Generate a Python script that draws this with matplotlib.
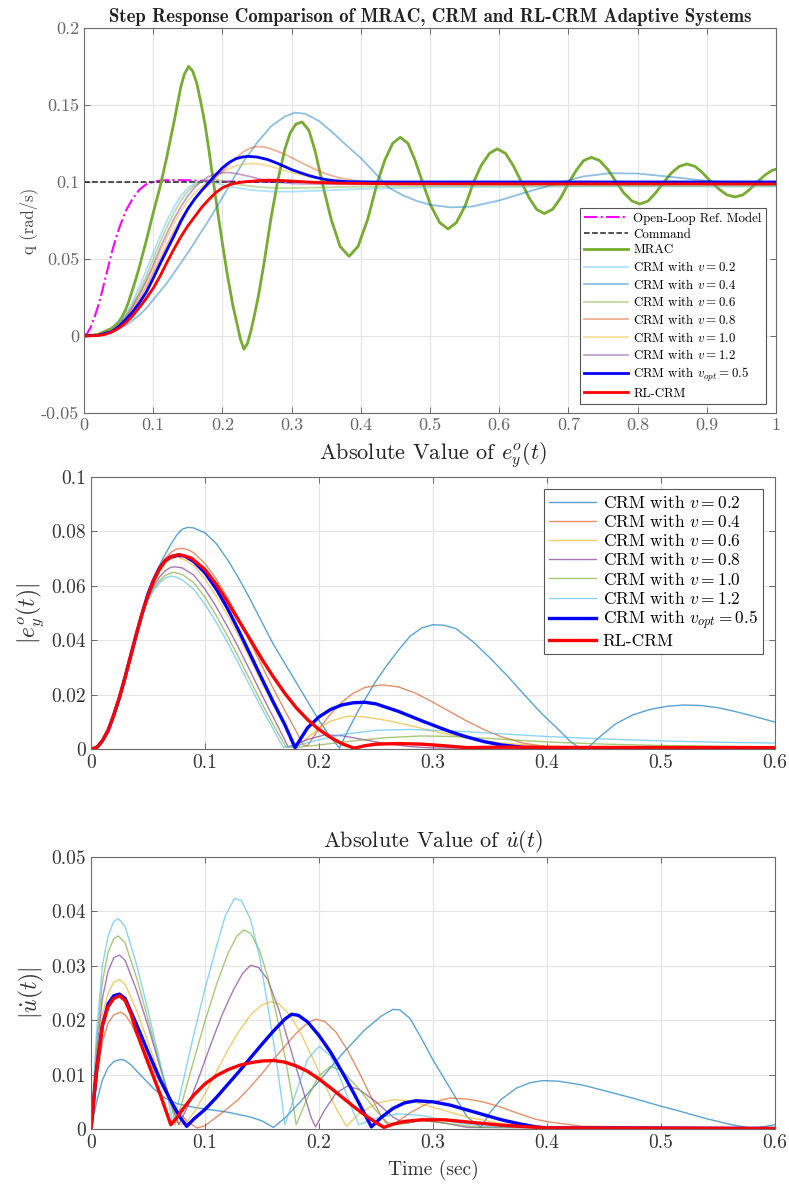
import numpy as np
import matplotlib.pyplot as plt
from matplotlib.ticker import FuncFormatter

plt.rcParams['font.family'] = 'cmr10'
plt.rcParams['mathtext.fontset'] = 'cm'
plt.rcParams['axes.unicode_minus'] = False

# --- MATLAB default colours ---
C_BLUE = (0, 0.447, 0.741)
C_ORANGE = (0.85, 0.325, 0.098)
C_YELLOW = (0.929, 0.694, 0.125)
C_PURPLE = (0.494, 0.184, 0.556)
C_GREEN = (0.466, 0.674, 0.188)
C_CYAN = (0.301, 0.745, 0.933)

# =========================================================================
# Panel 1: step response q (rad/s), (t, q) pairs
# =========================================================================
ref_model = [(0, 0), (0.005, 0.002), (0.01, 0.006), (0.015, 0.012), (0.02, 0.019), (0.025, 0.027),
             (0.03, 0.036), (0.035, 0.045), (0.04, 0.054), (0.045, 0.062), (0.05, 0.069), (0.06, 0.081),
             (0.07, 0.089), (0.08, 0.095), (0.09, 0.0985), (0.1, 0.1), (0.11, 0.1009), (0.125, 0.1013),
             (0.15, 0.1011), (0.2, 0.1003), (0.3, 0.1), (1.0, 0.1)]
command = [(0, 0.1), (1.0, 0.1)]

mrac_t = [0, 0.02, 0.04, 0.05, 0.055, 0.06, 0.065, 0.07, 0.075, 0.08,
          0.09, 0.1, 0.11, 0.12, 0.13, 0.14, 0.145, 0.151, 0.157, 0.163,
          0.17, 0.175, 0.18, 0.187, 0.195, 0.2, 0.207, 0.215, 0.221, 0.226,
          0.231, 0.236, 0.241, 0.246, 0.252, 0.26, 0.27, 0.28, 0.29, 0.298,
          0.306, 0.315, 0.325, 0.334, 0.344, 0.357, 0.37, 0.383, 0.396, 0.41,
          0.424, 0.435, 0.446, 0.457, 0.468, 0.478, 0.489, 0.501, 0.514, 0.526,
          0.538, 0.551, 0.563, 0.574, 0.586, 0.597, 0.609, 0.62, 0.632, 0.643,
          0.654, 0.665, 0.677, 0.689, 0.701, 0.712, 0.722, 0.733, 0.745, 0.757,
          0.769, 0.78, 0.792, 0.803, 0.815, 0.826, 0.838, 0.849, 0.86, 0.871,
          0.883, 0.894, 0.906, 0.918, 0.929, 0.941, 0.952, 0.962, 0.973, 0.984,
          0.994, 1.0]
mrac_q = [0, 0.001, 0.005, 0.009, 0.0125, 0.017, 0.023, 0.03, 0.037, 0.045,
          0.062, 0.08, 0.097, 0.117, 0.139, 0.162, 0.17, 0.175, 0.172, 0.164,
          0.149, 0.137, 0.122, 0.1, 0.075, 0.06, 0.04, 0.02, 0.008, -0.002,
          -0.0086, -0.005, 0.003, 0.013, 0.026, 0.047, 0.076, 0.101, 0.121, 0.132,
          0.1375, 0.139, 0.1335, 0.12, 0.1, 0.0759, 0.0582, 0.0517, 0.0582, 0.0759,
          0.1, 0.1145, 0.1251, 0.129, 0.1251, 0.1145, 0.1, 0.0848, 0.0736, 0.0695,
          0.0736, 0.0848, 0.1, 0.1108, 0.1186, 0.1215, 0.1186, 0.1108, 0.1, 0.0898,
          0.0822, 0.0795, 0.0822, 0.0898, 0.1, 0.108, 0.1139, 0.116, 0.1139, 0.108,
          0.1, 0.0929, 0.0876, 0.0857, 0.0876, 0.0929, 0.1, 0.1059, 0.1101, 0.1117,
          0.1101, 0.1059, 0.1, 0.0952, 0.0916, 0.0903, 0.0916, 0.0952, 0.1, 0.1045,
          0.1075, 0.1083]

q_v02 = [(0, 0), (0.02, 0.0005), (0.04, 0.004), (0.05, 0.008), (0.06, 0.014), (0.07, 0.022),
         (0.08, 0.032), (0.09, 0.043), (0.1, 0.054), (0.11, 0.065), (0.12, 0.075), (0.13, 0.084),
         (0.14, 0.091), (0.15, 0.096), (0.16, 0.099), (0.17, 0.1005), (0.18, 0.1005), (0.19, 0.0995),
         (0.21, 0.097), (0.24, 0.0948), (0.27, 0.0938), (0.3, 0.0937), (0.35, 0.0945), (0.4, 0.0955),
         (0.5, 0.0965), (0.7, 0.097), (1.0, 0.097)]
q_v04 = [(0, 0), (0.02, 0.0003), (0.04, 0.0025), (0.06, 0.0068), (0.08, 0.0135), (0.09, 0.018),
         (0.1, 0.0235), (0.11, 0.029), (0.12, 0.0345), (0.13, 0.041), (0.14, 0.0475), (0.15, 0.054),
         (0.16, 0.061), (0.17, 0.068), (0.18, 0.075), (0.19, 0.0825), (0.2, 0.09), (0.213, 0.1),
         (0.23, 0.113), (0.25, 0.1255), (0.27, 0.136), (0.29, 0.1425), (0.305, 0.145), (0.32, 0.1442),
         (0.34, 0.1395), (0.36, 0.1318), (0.38, 0.1235), (0.4, 0.1155), (0.42, 0.106), (0.44, 0.0965),
         (0.46, 0.0915), (0.48, 0.0878), (0.5, 0.0852), (0.53, 0.0835), (0.56, 0.084), (0.6, 0.088),
         (0.64, 0.0935), (0.68, 0.0985), (0.72, 0.1035), (0.76, 0.1057), (0.8, 0.1055), (0.85, 0.1032),
         (0.9, 0.1007), (0.95, 0.099), (1.0, 0.0983)]
q_v06 = [(0, 0), (0.02, 0.0005), (0.04, 0.0035), (0.05, 0.0075), (0.06, 0.013), (0.07, 0.02),
         (0.08, 0.029), (0.09, 0.039), (0.1, 0.05), (0.11, 0.061), (0.12, 0.071), (0.13, 0.08),
         (0.14, 0.088), (0.15, 0.094), (0.16, 0.098), (0.17, 0.1005), (0.18, 0.1015), (0.19, 0.1015),
         (0.2, 0.1008), (0.22, 0.0985), (0.25, 0.0968), (0.28, 0.096), (0.32, 0.0962), (0.4, 0.097),
         (0.6, 0.0975), (1.0, 0.0975)]
q_v08 = [(0, 0), (0.02, 0.0005), (0.04, 0.003), (0.05, 0.006), (0.06, 0.0105), (0.07, 0.017),
         (0.08, 0.024), (0.09, 0.032), (0.1, 0.041), (0.11, 0.05), (0.12, 0.059), (0.13, 0.068),
         (0.14, 0.076), (0.15, 0.083), (0.16, 0.089), (0.17, 0.094), (0.18, 0.098), (0.19, 0.1025),
         (0.2, 0.107), (0.21, 0.1115), (0.22, 0.1155), (0.23, 0.1195), (0.24, 0.122), (0.25, 0.123),
         (0.26, 0.1228), (0.27, 0.1215), (0.29, 0.118), (0.31, 0.1135), (0.33, 0.109), (0.35, 0.1052),
         (0.37, 0.1025), (0.4, 0.1003), (0.45, 0.0995), (1.0, 0.0993)]
q_v10 = [(0, 0), (0.02, 0.0005), (0.04, 0.0032), (0.05, 0.0065), (0.06, 0.011), (0.07, 0.018),
         (0.08, 0.026), (0.09, 0.035), (0.1, 0.044), (0.11, 0.054), (0.12, 0.064), (0.13, 0.073),
         (0.14, 0.081), (0.15, 0.0875), (0.16, 0.093), (0.17, 0.097), (0.18, 0.1005), (0.19, 0.1038),
         (0.2, 0.1065), (0.21, 0.1088), (0.22, 0.1105), (0.23, 0.1115), (0.242, 0.112), (0.255, 0.1115),
         (0.27, 0.11), (0.29, 0.1075), (0.31, 0.105), (0.33, 0.103), (0.36, 0.1008), (0.4, 0.0995),
         (0.5, 0.099), (1.0, 0.099)]
q_v12 = [(0, 0), (0.02, 0.0005), (0.04, 0.0033), (0.05, 0.007), (0.06, 0.012), (0.07, 0.019),
         (0.08, 0.027), (0.09, 0.036), (0.1, 0.046), (0.11, 0.057), (0.12, 0.067), (0.13, 0.076),
         (0.14, 0.084), (0.15, 0.091), (0.16, 0.0965), (0.17, 0.1005), (0.18, 0.1035), (0.19, 0.1052),
         (0.2, 0.106), (0.21, 0.1061), (0.22, 0.1055), (0.24, 0.1035), (0.26, 0.1013), (0.28, 0.0998),
         (0.3, 0.099), (0.35, 0.0985), (1.0, 0.0985)]
q_opt = [(0, 0), (0.02, 0.0004), (0.04, 0.0028), (0.05, 0.006), (0.06, 0.0105), (0.07, 0.0155),
         (0.08, 0.0215), (0.09, 0.0285), (0.1, 0.0375), (0.11, 0.047), (0.12, 0.056), (0.13, 0.065),
         (0.14, 0.0745), (0.15, 0.0825), (0.16, 0.089), (0.17, 0.0945), (0.181, 0.1), (0.19, 0.1045),
         (0.2, 0.1092), (0.21, 0.1128), (0.22, 0.1152), (0.23, 0.1163), (0.237, 0.1166), (0.25, 0.1162),
         (0.266, 0.1145), (0.28, 0.112), (0.29, 0.11), (0.3, 0.108), (0.314, 0.1058), (0.326, 0.104),
         (0.338, 0.1026), (0.35, 0.1015), (0.362, 0.1008), (0.38, 0.1002), (0.42, 0.1), (1.0, 0.1)]
q_rl = [(0, 0), (0.02, 0.0003), (0.03, 0.001), (0.04, 0.0025), (0.05, 0.005), (0.06, 0.0085),
        (0.07, 0.013), (0.08, 0.0185), (0.09, 0.0245), (0.1, 0.031), (0.11, 0.039), (0.12, 0.048),
        (0.13, 0.0565), (0.14, 0.0645), (0.15, 0.0715), (0.16, 0.0775), (0.17, 0.0835), (0.18, 0.0885),
        (0.19, 0.093), (0.2, 0.0962), (0.21, 0.0982), (0.22, 0.0993), (0.23, 0.1), (0.242, 0.1005),
        (0.255, 0.101), (0.266, 0.1012), (0.28, 0.1011), (0.3, 0.1006), (0.33, 0.0998), (0.37, 0.0992),
        (0.45, 0.0988), (1.0, 0.0987)]

# =========================================================================
# Panel 2: |e_y^o(t)|
# =========================================================================
ey_rise = [(0, 0), (0.005, 0.0005), (0.01, 0.003), (0.015, 0.0068), (0.02, 0.0125), (0.025, 0.019),
           (0.03, 0.0265), (0.035, 0.0345), (0.04, 0.0425), (0.045, 0.05)]
ey_v02 = [(0.05, 0.057), (0.055, 0.063), (0.06, 0.0675), (0.065, 0.0715), (0.07, 0.0752), (0.075, 0.0785),
          (0.08, 0.0808), (0.085, 0.0815), (0.09, 0.0813), (0.1, 0.0795), (0.11, 0.0755), (0.12, 0.0695),
          (0.13, 0.0625), (0.14, 0.0548), (0.15, 0.0466), (0.16, 0.0385), (0.17, 0.0315), (0.18, 0.0245),
          (0.19, 0.0175), (0.2, 0.0105), (0.21, 0.0045), (0.218, 0.0003), (0.225, 0.0065), (0.235, 0.0145),
          (0.25, 0.025), (0.26, 0.031), (0.27, 0.0365), (0.28, 0.0415), (0.29, 0.0445), (0.3, 0.0457),
          (0.31, 0.0455), (0.32, 0.0443), (0.335, 0.0395), (0.35, 0.0335), (0.365, 0.027), (0.38, 0.02),
          (0.395, 0.0132), (0.41, 0.0072), (0.42, 0.003), (0.428, 0.0005), (0.436, 0.0005), (0.445, 0.004),
          (0.46, 0.0092), (0.475, 0.0125), (0.49, 0.0145), (0.505, 0.0157), (0.52, 0.0162), (0.535, 0.016),
          (0.55, 0.0152), (0.565, 0.0138), (0.58, 0.0122), (0.6, 0.0099)]
ey_v04 = [(0.05, 0.0565), (0.055, 0.062), (0.06, 0.0665), (0.065, 0.07), (0.07, 0.0723), (0.075, 0.0735),
          (0.08, 0.0738), (0.085, 0.0733), (0.09, 0.0722), (0.1, 0.0682), (0.11, 0.0625), (0.12, 0.0555),
          (0.13, 0.0475), (0.14, 0.039), (0.15, 0.0305), (0.16, 0.0222), (0.17, 0.0142), (0.18, 0.0065),
          (0.186, 0.0015), (0.19, 0.0012), (0.2, 0.0075), (0.21, 0.0128), (0.22, 0.0172), (0.23, 0.0205),
          (0.24, 0.0226), (0.255, 0.0236), (0.27, 0.0228), (0.285, 0.0205), (0.3, 0.0172), (0.315, 0.0137),
          (0.33, 0.0102), (0.345, 0.0071), (0.36, 0.0045), (0.38, 0.0021), (0.4, 0.0009), (0.45, 0.0004),
          (0.6, 0.0003)]
ey_v06 = [(0.05, 0.056), (0.055, 0.061), (0.06, 0.065), (0.065, 0.068), (0.07, 0.0698), (0.076, 0.0705),
          (0.085, 0.069), (0.09, 0.0675), (0.1, 0.0625), (0.11, 0.0562), (0.12, 0.049), (0.13, 0.0412),
          (0.14, 0.0328), (0.15, 0.0243), (0.16, 0.016), (0.17, 0.0082), (0.177, 0.0025), (0.181, 0.0005),
          (0.19, 0.0042), (0.2, 0.0076), (0.21, 0.0102), (0.225, 0.0121), (0.24, 0.0118), (0.26, 0.0105),
          (0.28, 0.0086), (0.3, 0.0066), (0.33, 0.004), (0.36, 0.0022), (0.4, 0.001), (0.5, 0.0004),
          (0.6, 0.0003)]
ey_v08 = [(0.05, 0.0555), (0.055, 0.0598), (0.06, 0.0632), (0.065, 0.0655), (0.07, 0.0668), (0.074, 0.067),
          (0.08, 0.0666), (0.09, 0.064), (0.1, 0.0588), (0.11, 0.0522), (0.12, 0.0448), (0.13, 0.0368),
          (0.14, 0.0284), (0.15, 0.0198), (0.16, 0.0116), (0.167, 0.0058), (0.173, 0.0008), (0.18, 0.0018),
          (0.19, 0.0035), (0.205, 0.0052), (0.22, 0.0049), (0.24, 0.0034), (0.26, 0.0019), (0.28, 0.0009),
          (0.3, 0.0004), (0.6, 0.0002)]
ey_v10 = [(0.05, 0.055), (0.055, 0.059), (0.06, 0.0618), (0.065, 0.0638), (0.072, 0.065), (0.08, 0.0642),
          (0.09, 0.0612), (0.1, 0.0558), (0.11, 0.049), (0.12, 0.0414), (0.13, 0.0333), (0.14, 0.025),
          (0.15, 0.0167), (0.16, 0.0089), (0.167, 0.0037), (0.171, 0.0008), (0.18, 0.0006), (0.2, 0.0015),
          (0.23, 0.003), (0.26, 0.0042), (0.29, 0.0048), (0.32, 0.0046), (0.36, 0.0036), (0.4, 0.0026),
          (0.45, 0.0018), (0.5, 0.0013), (0.6, 0.0008)]
ey_v12 = [(0.05, 0.0545), (0.055, 0.0583), (0.06, 0.061), (0.065, 0.0628), (0.07, 0.0636), (0.075, 0.0632),
          (0.08, 0.0622), (0.09, 0.0588), (0.1, 0.0532), (0.11, 0.0465), (0.12, 0.039), (0.13, 0.031),
          (0.14, 0.0228), (0.15, 0.0147), (0.16, 0.0072), (0.166, 0.0025), (0.169, 0.0006), (0.18, 0.0012),
          (0.2, 0.0034), (0.22, 0.0053), (0.25, 0.0069), (0.28, 0.0072), (0.32, 0.0066), (0.36, 0.0056),
          (0.4, 0.0046), (0.45, 0.0037), (0.5, 0.003), (0.55, 0.0025), (0.6, 0.0022)]
ey_opt = [(0.05, 0.057), (0.055, 0.0622), (0.06, 0.0664), (0.065, 0.0692), (0.07, 0.0706), (0.076, 0.0712),
          (0.082, 0.071), (0.09, 0.069), (0.1, 0.0648), (0.11, 0.0588), (0.12, 0.0515), (0.13, 0.0432),
          (0.14, 0.0345), (0.15, 0.0258), (0.16, 0.0172), (0.17, 0.009), (0.179, 0.0005), (0.185, 0.0045),
          (0.19, 0.0078), (0.2, 0.0118), (0.21, 0.0145), (0.22, 0.0162), (0.23, 0.017), (0.24, 0.0172),
          (0.25, 0.0166), (0.26, 0.0152), (0.27, 0.0138), (0.28, 0.0121), (0.29, 0.0104), (0.3, 0.0088),
          (0.315, 0.0064), (0.33, 0.0044), (0.345, 0.0027), (0.36, 0.0015), (0.38, 0.0006), (0.45, 0.0002),
          (0.6, 0.0002)]
ey_rl = [(0.05, 0.0565), (0.055, 0.062), (0.06, 0.0662), (0.065, 0.0692), (0.07, 0.0708), (0.0775, 0.0715),
         (0.088, 0.0702), (0.1, 0.066), (0.11, 0.0605), (0.12, 0.054), (0.13, 0.047), (0.14, 0.04),
         (0.15, 0.033), (0.16, 0.0265), (0.17, 0.0205), (0.18, 0.0152), (0.19, 0.0108), (0.2, 0.0072),
         (0.21, 0.0043), (0.22, 0.002), (0.231, 0.0003), (0.24, 0.0012), (0.25, 0.0018), (0.27, 0.002),
         (0.29, 0.0018), (0.31, 0.0012), (0.33, 0.0005), (0.36, 0.0007), (0.4, 0.0006), (0.6, 0.0005)]

# =========================================================================
# Panel 3: |u_dot(t)|
# =========================================================================
ud_v02 = [(0, 0), (0.005, 0.005), (0.01, 0.009), (0.015, 0.0113), (0.02, 0.0124), (0.026, 0.0128),
          (0.03, 0.0126), (0.035, 0.0118), (0.045, 0.0096), (0.055, 0.0074), (0.065, 0.0057), (0.075, 0.0047),
          (0.09, 0.004), (0.1, 0.0037), (0.12, 0.0031), (0.14, 0.0022), (0.15, 0.0015), (0.16, 0.0003),
          (0.17, 0.002), (0.18, 0.0042), (0.2, 0.0088), (0.22, 0.0137), (0.24, 0.0182), (0.255, 0.0208),
          (0.265, 0.022), (0.271, 0.0219), (0.28, 0.0203), (0.289, 0.017), (0.3, 0.0127), (0.315, 0.0075),
          (0.33, 0.0022), (0.342, 0.0003), (0.35, 0.003), (0.359, 0.0053), (0.373, 0.0075), (0.385, 0.0085),
          (0.396, 0.0089), (0.41, 0.0088), (0.431, 0.0081), (0.455, 0.0068), (0.475, 0.0057), (0.5, 0.0042),
          (0.518, 0.0032), (0.54, 0.0019), (0.562, 0.0008), (0.578, 0.0002), (0.59, 0.0004), (0.6, 0.0008)]
ud_v04 = [(0, 0), (0.005, 0.009), (0.01, 0.016), (0.015, 0.0195), (0.02, 0.021), (0.026, 0.0215),
          (0.03, 0.021), (0.035, 0.0195), (0.045, 0.0152), (0.055, 0.0108), (0.065, 0.0068), (0.075, 0.0036),
          (0.085, 0.0013), (0.093, 0.0002), (0.1, 0.0006), (0.11, 0.0022), (0.12, 0.0038), (0.13, 0.0056),
          (0.14, 0.0078), (0.15, 0.0102), (0.16, 0.0128), (0.17, 0.0152), (0.18, 0.0176), (0.19, 0.0195),
          (0.197, 0.0202), (0.205, 0.0198), (0.215, 0.0178), (0.225, 0.0145), (0.235, 0.0105), (0.245, 0.0062),
          (0.255, 0.0022), (0.262, 0.0004), (0.27, 0.0015), (0.28, 0.003), (0.295, 0.0047), (0.315, 0.0057),
          (0.33, 0.0055), (0.344, 0.005), (0.36, 0.004), (0.373, 0.003), (0.39, 0.0018), (0.402, 0.0013),
          (0.431, 0.0005), (0.6, 0.0002)]
ud_v06 = [(0, 0), (0.005, 0.012), (0.01, 0.021), (0.015, 0.025), (0.02, 0.027), (0.025, 0.0275),
          (0.03, 0.0266), (0.04, 0.0218), (0.05, 0.016), (0.06, 0.01), (0.07, 0.0045), (0.077, 0.001),
          (0.082, 0.0008), (0.09, 0.003), (0.1, 0.0065), (0.11, 0.0105), (0.12, 0.0145), (0.13, 0.018),
          (0.14, 0.021), (0.15, 0.0228), (0.158, 0.0234), (0.165, 0.023), (0.175, 0.0208), (0.185, 0.0172),
          (0.195, 0.0128), (0.205, 0.0082), (0.215, 0.0038), (0.224, 0.0005), (0.235, 0.0028), (0.25, 0.0047),
          (0.265, 0.0054), (0.28, 0.0052), (0.3, 0.004), (0.33, 0.0022), (0.36, 0.001), (0.4, 0.0003),
          (0.6, 0.0001)]
ud_v08 = [(0, 0), (0.005, 0.014), (0.01, 0.024), (0.015, 0.029), (0.02, 0.0315), (0.025, 0.032),
          (0.03, 0.031), (0.04, 0.0255), (0.05, 0.019), (0.06, 0.0118), (0.07, 0.005), (0.077, 0.0008),
          (0.085, 0.0042), (0.095, 0.0097), (0.105, 0.0155), (0.115, 0.021), (0.125, 0.0256), (0.133, 0.0286),
          (0.14, 0.0301), (0.147, 0.0297), (0.155, 0.0275), (0.165, 0.0218), (0.175, 0.0148), (0.185, 0.0078),
          (0.193, 0.0022), (0.197, 0.0004), (0.205, 0.0035), (0.215, 0.0066), (0.225, 0.0079), (0.235, 0.0073),
          (0.25, 0.005), (0.265, 0.0022), (0.275, 0.001), (0.29, 0.0016), (0.31, 0.0011), (0.33, 0.0003),
          (0.6, 0.0001)]
ud_v10 = [(0, 0), (0.005, 0.016), (0.01, 0.027), (0.015, 0.0325), (0.02, 0.035), (0.024, 0.0355),
          (0.03, 0.0342), (0.04, 0.0278), (0.05, 0.0202), (0.06, 0.0122), (0.07, 0.0048), (0.074, 0.0008),
          (0.08, 0.005), (0.09, 0.0125), (0.1, 0.0198), (0.11, 0.0265), (0.12, 0.0322), (0.128, 0.0355),
          (0.134, 0.0366), (0.14, 0.036), (0.148, 0.0328), (0.155, 0.028), (0.163, 0.0208), (0.17, 0.0135),
          (0.176, 0.0065), (0.18, 0.0008), (0.19, 0.0058), (0.2, 0.0098), (0.21, 0.0115), (0.22, 0.0108),
          (0.235, 0.0074), (0.25, 0.0034), (0.26, 0.0012), (0.27, 0.0008), (0.29, 0.0016), (0.31, 0.0011),
          (0.34, 0.0003), (0.6, 0.0001)]
ud_v12 = [(0, 0), (0.005, 0.018), (0.01, 0.03), (0.015, 0.0355), (0.02, 0.0382), (0.024, 0.0387),
          (0.03, 0.0372), (0.04, 0.0302), (0.05, 0.0218), (0.06, 0.0128), (0.068, 0.0052), (0.072, 0.0008),
          (0.08, 0.008), (0.09, 0.0172), (0.1, 0.0258), (0.11, 0.0335), (0.118, 0.0393), (0.126, 0.0424),
          (0.132, 0.042), (0.14, 0.0385), (0.148, 0.0315), (0.155, 0.0228), (0.162, 0.0135), (0.167, 0.006),
          (0.17, 0.0008), (0.18, 0.0068), (0.19, 0.0128), (0.2, 0.0152), (0.21, 0.0135), (0.22, 0.0087),
          (0.23, 0.0032), (0.235, 0.0008), (0.25, 0.002), (0.27, 0.0028), (0.29, 0.0025), (0.32, 0.0012),
          (0.35, 0.0004), (0.6, 0.0001)]
ud_opt = [(0, 0), (0.005, 0.011), (0.01, 0.019), (0.015, 0.023), (0.02, 0.0245), (0.025, 0.0248),
          (0.03, 0.024), (0.04, 0.0192), (0.05, 0.0142), (0.06, 0.0094), (0.07, 0.0052), (0.078, 0.0022),
          (0.084, 0.0005), (0.09, 0.0018), (0.1, 0.0036), (0.11, 0.0058), (0.12, 0.0082), (0.13, 0.0106),
          (0.14, 0.0131), (0.15, 0.0156), (0.16, 0.018), (0.17, 0.0202), (0.176, 0.0211), (0.182, 0.0209),
          (0.19, 0.0197), (0.2, 0.0172), (0.21, 0.0142), (0.22, 0.0106), (0.23, 0.0068), (0.24, 0.0028),
          (0.246, 0.0004), (0.255, 0.0022), (0.265, 0.0038), (0.275, 0.0048), (0.285, 0.0052), (0.3, 0.005),
          (0.315, 0.0044), (0.33, 0.0035), (0.345, 0.0026), (0.36, 0.0017), (0.375, 0.001), (0.39, 0.0004),
          (0.4, 0.0002), (0.6, 0.0001)]
ud_rl = [(0, 0), (0.005, 0.011), (0.01, 0.019), (0.015, 0.0225), (0.02, 0.024), (0.025, 0.0245),
         (0.03, 0.0236), (0.035, 0.0212), (0.04, 0.0178), (0.05, 0.0122), (0.06, 0.0068), (0.07, 0.0008),
         (0.075, 0.002), (0.08, 0.0035), (0.09, 0.0062), (0.1, 0.0083), (0.11, 0.0098), (0.12, 0.0109),
         (0.13, 0.0117), (0.14, 0.0122), (0.15, 0.0125), (0.16, 0.0126), (0.17, 0.0123), (0.18, 0.0116),
         (0.19, 0.0106), (0.2, 0.0092), (0.21, 0.0076), (0.22, 0.0059), (0.23, 0.0042), (0.24, 0.0026),
         (0.25, 0.0012), (0.257, 0.0003), (0.265, 0.0009), (0.275, 0.0014), (0.29, 0.0017), (0.31, 0.0017),
         (0.33, 0.0013), (0.36, 0.0007), (0.4, 0.0002), (0.6, 0.0001)]

v_labels = ['0.2', '0.4', '0.6', '0.8', '1.0', '1.2']


def draw(ax, pts, **kw):
    t, v = np.array(pts, dtype=float).T
    return ax.plot(t, v, **kw)[0]


def style_axes(ax, tick_size, tick_color):
    ax.tick_params(direction='in', top=True, right=True, length=4, width=0.6,
                   labelsize=tick_size, colors='#555555', labelcolor=tick_color)
    ax.grid(True, color='#e4e4e4', linewidth=0.8)
    ax.set_axisbelow(True)
    for s in ax.spines.values():
        s.set_color('#6b6b6b')
        s.set_linewidth(0.8)
    ax.xaxis.set_major_formatter(FuncFormatter(lambda v, p: f'{v:g}'))
    ax.yaxis.set_major_formatter(FuncFormatter(lambda v, p: f'{v:g}'))


fig = plt.figure(figsize=(7.89, 11.95), dpi=100)
ax1 = fig.add_axes([0.1065, 0.6544, 0.8771, 0.3222])
ax2 = fig.add_axes([0.1153, 0.3732, 0.8669, 0.2276])
ax3 = fig.add_axes([0.1153, 0.0552, 0.8669, 0.2276])

# --- panel 1 ---
draw(ax1, ref_model, color=(1, 0, 1), ls='-.', lw=1.5, label='Open-Loop Ref. Model')
draw(ax1, command, color='#222222', ls='--', lw=1.1, label='Command')
ax1.plot(mrac_t, mrac_q, color=C_GREEN, lw=2.0, label='MRAC')
top_sets = [(q_v02, C_CYAN), (q_v04, C_BLUE), (q_v06, C_GREEN),
            (q_v08, C_ORANGE), (q_v10, C_YELLOW), (q_v12, C_PURPLE)]
for (pts, col), lab in zip(top_sets, v_labels):
    draw(ax1, pts, color=col, alpha=0.45, lw=1.3, label=rf'CRM with $v = {lab}$')
draw(ax1, q_opt, color=(0, 0, 1), lw=2.0, label=r'CRM with $v_{opt} = 0.5$')
draw(ax1, q_rl, color=(1, 0, 0), lw=2.0, label='RL-CRM')

ax1.set_xlim(0, 1)
ax1.set_ylim(-0.05, 0.2)
ax1.set_xticks(np.arange(0, 1.01, 0.1))
ax1.set_yticks([-0.05, 0, 0.05, 0.1, 0.15, 0.2])
style_axes(ax1, 13, '#666666')
ax1.set_ylabel('q (rad/s)', fontsize=12, color='#444444', labelpad=2)
ax1.set_title('Step Response Comparison of MRAC, CRM and RL-CRM Adaptive Systems',
              fontfamily='cmb10', fontsize=13.5, pad=4, color='#222222')
leg1 = ax1.legend(loc='lower right', bbox_to_anchor=(0.9855, 0.023), borderaxespad=0,
                  fontsize=9.3, labelspacing=0.28, handlelength=3.4, handletextpad=0.4,
                  borderpad=0.35, fancybox=False, framealpha=1, edgecolor='#555555')
leg1.get_frame().set_linewidth(0.8)

# --- panel 2 ---
mid_sets = [(ey_v02, C_BLUE), (ey_v04, C_ORANGE), (ey_v06, C_YELLOW),
            (ey_v08, C_PURPLE), (ey_v10, C_GREEN), (ey_v12, C_CYAN)]
for (pts, col), lab in zip(mid_sets, v_labels):
    draw(ax2, ey_rise + pts, color=col, alpha=0.65, lw=1.0, label=rf'CRM with $v = {lab}$')
draw(ax2, ey_rise + ey_opt, color=(0, 0, 1), lw=2.4, label=r'CRM with $v_{opt} = 0.5$')
draw(ax2, ey_rise + ey_rl, color=(1, 0, 0), lw=2.4, label='RL-CRM')

ax2.set_xlim(0, 0.6)
ax2.set_ylim(0, 0.1)
ax2.set_xticks(np.arange(0, 0.61, 0.1))
ax2.set_yticks(np.arange(0, 0.101, 0.02))
style_axes(ax2, 14, '#333333')
ax2.set_ylabel(r'$|e_y^o(t)|$', fontsize=17, color='#333333', labelpad=4)
ax2.set_title(r'Absolute Value of $e_y^o(t)$', fontsize=16, pad=13, color='#222222')
leg2 = ax2.legend(loc='upper right', bbox_to_anchor=(0.9825, 0.956), borderaxespad=0,
                  fontsize=12.5, labelspacing=0.12, handlelength=2.7, handletextpad=0.4,
                  borderpad=0.3, fancybox=False, framealpha=1, edgecolor='#555555')
leg2.get_frame().set_linewidth(0.8)

# --- panel 3 ---
bot_sets = [(ud_v02, C_BLUE), (ud_v04, C_ORANGE), (ud_v06, C_YELLOW),
            (ud_v08, C_PURPLE), (ud_v10, C_GREEN), (ud_v12, C_CYAN)]
for pts, col in bot_sets:
    draw(ax3, pts, color=col, alpha=0.65, lw=1.0)
draw(ax3, ud_opt, color=(0, 0, 1), lw=2.4)
draw(ax3, ud_rl, color=(1, 0, 0), lw=2.4)

ax3.set_xlim(0, 0.6)
ax3.set_ylim(0, 0.05)
ax3.set_xticks(np.arange(0, 0.61, 0.1))
ax3.set_yticks(np.arange(0, 0.051, 0.01))
style_axes(ax3, 14, '#333333')
ax3.set_ylabel(r'$|\dot{u}(t)|$', fontsize=17, color='#333333', labelpad=4)
ax3.set_xlabel('Time (sec)', fontsize=14, color='#333333', labelpad=6)
ax3.set_title(r'Absolute Value of $\dot{u}(t)$', fontsize=16, pad=7, color='#222222')

fig.savefig('out.png', dpi=100)
